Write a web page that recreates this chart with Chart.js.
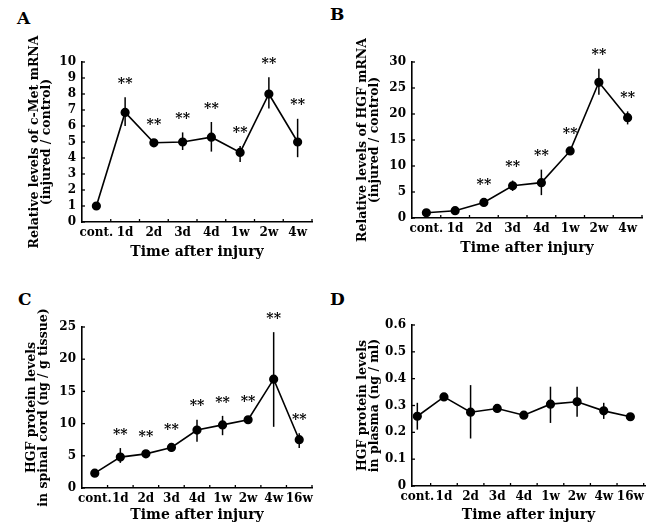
<!DOCTYPE html>
<html><head><meta charset="utf-8">
<script src="https://cdn.jsdelivr.net/npm/chart.js@4.4.0/dist/chart.umd.min.js"></script>
<style>
html,body{margin:0;padding:0;background:#fff;width:657px;height:524px;overflow:hidden;position:relative;}
.panel{position:absolute;}
.letter{position:absolute;font-family:"DejaVu Serif";font-weight:bold;font-size:17px;line-height:17px;color:#000;}
</style></head><body>
<div class="letter" style="left:17px;top:10px">A</div>
<div class="letter" style="left:330px;top:6px">B</div>
<div class="letter" style="left:18px;top:291px">C</div>
<div class="letter" style="left:330px;top:291px">D</div>
<div class="panel" style="left:0;top:0"><canvas id="cA" width="330" height="262"></canvas></div>
<div class="panel" style="left:330px;top:0"><canvas id="cB" width="327" height="262"></canvas></div>
<div class="panel" style="left:0;top:262px"><canvas id="cC" width="330" height="262"></canvas></div>
<div class="panel" style="left:330px;top:262px"><canvas id="cD" width="327" height="262"></canvas></div>
<script>
// ---- data ----
const catsMRNA = ['cont.', '1d', '2d', '3d', '4d', '1w', '2w', '4w'];
const catsProtein = ['cont.', '1d', '2d', '3d', '4d', '1w', '2w', '4w', '16w'];

const cMetMean = [1.0, 6.85, 4.95, 5.0, 5.3, 4.35, 8.0, 5.0];
const cMetHi   = [1.0, 7.8, 4.95, 5.6, 6.25, 4.75, 9.05, 6.45];
const cMetLo   = [1.0, 6.0, 4.95, 4.5, 4.4, 3.75, 7.1, 4.05];
const cMetSig  = ['', '**', '**', '**', '**', '**', '**', '**'];

const hgfMean = [1.0, 1.4, 3.0, 6.2, 6.8, 12.9, 26.1, 19.3];
const hgfHi   = [1.2, 1.7, 3.3, 7.2, 9.3, 13.6, 28.7, 20.5];
const hgfLo   = [0.8, 1.1, 2.7, 5.2, 4.4, 12.3, 23.7, 18.0];
const hgfSig  = ['', '', '**', '**', '**', '**', '**', '**'];

const cordMean = [2.3, 4.8, 5.3, 6.3, 9.0, 9.8, 10.6, 16.9, 7.5];
const cordHi   = [2.5, 6.2, 5.7, 7.0, 10.6, 11.2, 10.8, 24.2, 8.5];
const cordLo   = [2.1, 3.9, 4.9, 5.6, 7.2, 8.2, 10.4, 9.5, 6.2];
const cordSig  = ['', '**', '**', '**', '**', '**', '**', '**', '**'];

const plasmaMean = [0.26, 0.332, 0.275, 0.289, 0.264, 0.305, 0.314, 0.28, 0.258];
const plasmaHi   = [0.31, 0.332, 0.376, 0.305, 0.264, 0.37, 0.37, 0.31, 0.258];
const plasmaLo   = [0.21, 0.332, 0.177, 0.275, 0.264, 0.235, 0.258, 0.25, 0.258];
const plasmaSig  = ['', '', '', '', '', '', '', '', ''];

// ---- drawing ----
const FAM = '"DejaVu Serif", serif';

const extrasPlugin = {
  id: 'extras',
  beforeDatasetsDraw(chart) {
    const o = chart.options.plugins.extras;
    const {ctx, chartArea} = chart;
    const xs = chart.scales.x, ys = chart.scales.y;
    ctx.save();
    ctx.strokeStyle = '#000';
    ctx.lineWidth = 1.3;
    // small inward ticks
    ys.ticks.forEach(t => {
      const py = ys.getPixelForValue(t.value);
      ctx.beginPath(); ctx.moveTo(chartArea.left, py); ctx.lineTo(chartArea.left + 3, py); ctx.stroke();
    });
    for (let i = 0; i < o.cats.length; i++) {
      const px = xs.getPixelForValue(i + 0.5);
      if (px > chartArea.right + 1) continue;
      ctx.beginPath(); ctx.moveTo(px, chartArea.bottom); ctx.lineTo(px, chartArea.bottom - 3); ctx.stroke();
    }
    // error bars
    ctx.lineWidth = 1.5;
    o.hi.forEach((h, i) => {
      const px = xs.getPixelForValue(i);
      ctx.beginPath();
      ctx.moveTo(px, ys.getPixelForValue(h));
      ctx.lineTo(px, ys.getPixelForValue(o.lo[i]));
      ctx.stroke();
    });
    ctx.restore();
  },
  afterDatasetsDraw(chart) {
    const o = chart.options.plugins.extras;
    const {ctx} = chart;
    const xs = chart.scales.x, ys = chart.scales.y;
    ctx.save();
    ctx.fillStyle = '#000';
    ctx.font = 'bold 14px ' + FAM;
    ctx.textAlign = 'center';
    ctx.textBaseline = 'middle';
    o.sig.forEach((s, i) => {
      if (!s) return;
      const px = xs.getPixelForValue(i);
      const top = Math.min(ys.getPixelForValue(o.hi[i]), ys.getPixelForValue(o.mean[i]) - 4);
      ctx.fillText(s, px, top - 13);
    });
    ctx.restore();
  }
};

function makePanel(id, cats, mean, hi, lo, sig, yMax, yStep, yTitle, geo) {
  const tickFont = {family: FAM, size: 12, weight: 'bold'};
  new Chart(document.getElementById(id), {
    type: 'line',
    data: {
      datasets: [{
        data: mean.map((v, i) => ({x: i, y: v})),
        borderColor: '#000',
        backgroundColor: '#000',
        borderWidth: 1.6,
        pointRadius: 3.8,
        pointBackgroundColor: '#000',
        pointBorderColor: '#000',
        tension: 0
      }]
    },
    options: {
      responsive: false,
      animation: false,
      devicePixelRatio: 1,
      layout: {padding: {top: geo.top, right: geo.right, left: 0, bottom: 0}},
      plugins: {
        legend: {display: false},
        tooltip: {enabled: false},
        extras: {cats, mean, hi, lo, sig}
      },
      scales: {
        x: {
          type: 'linear',
          min: geo.xMin, max: geo.xMax,
          afterBuildTicks: s => { s.ticks = cats.map((c, i) => ({value: i})); },
          afterFit: s => { s.height = geo.xh; },
          ticks: {callback: v => cats[v], autoSkip: false, maxRotation: 0, padding: 4, font: tickFont, color: '#000'},
          grid: {display: false, drawTicks: false},
          border: {display: true, color: '#000', width: 1.6},
          title: {display: true, text: 'Time after injury', color: '#000',
                  font: {family: FAM, size: 14, weight: 'bold'}, padding: {top: 0, bottom: geo.xtPad}}
        },
        y: {
          min: 0, max: yMax,
          afterFit: s => { s.width = 82; },
          ticks: {stepSize: yStep, autoSkip: false, padding: 6, font: tickFont, color: '#000'},
          grid: {display: false, drawTicks: false},
          border: {display: true, color: '#000', width: 1.6},
          title: {display: true, text: yTitle, color: '#000',
                  font: {family: FAM, size: 12.5, weight: 'bold', lineHeight: 0.95}, padding: {top: geo.ytPad, bottom: 0}}
        }
      }
    },
    plugins: [extrasPlugin]
  });
}

makePanel('cA', catsMRNA, cMetMean, cMetHi, cMetLo, cMetSig, 10, 1,
  ['Relative levels of c-Met mRNA', '(injured / control)'],
  {top: 62, right: 18, xh: 40, xMin: -0.5, xMax: 7.5, xtPad: 1, ytPad: 29});
makePanel('cB', catsMRNA, hgfMean, hgfHi, hgfLo, hgfSig, 30, 5,
  ['Relative levels of HGF mRNA', '(injured / control)'],
  {top: 62, right: 15, xh: 44, xMin: -0.5, xMax: 7.5, xtPad: 5, ytPad: 27});
makePanel('cC', catsProtein, cordMean, cordHi, cordLo, cordSig, 25, 5,
  ['HGF protein levels', 'in spinal cord (ng / g tissue)'],
  {top: 65, right: 18, xh: 36, xMin: -0.5, xMax: 8.5, xtPad: 0, ytPad: 26});
makePanel('cD', catsProtein, plasmaMean, plasmaHi, plasmaLo, plasmaSig, 0.6, 0.1,
  ['HGF protein levels', 'in plasma (ng / ml)'],
  {top: 63, right: 12, xh: 38, xMin: -0.2, xMax: 8.55, xtPad: 0, ytPad: 27});
</script>
</body></html>
